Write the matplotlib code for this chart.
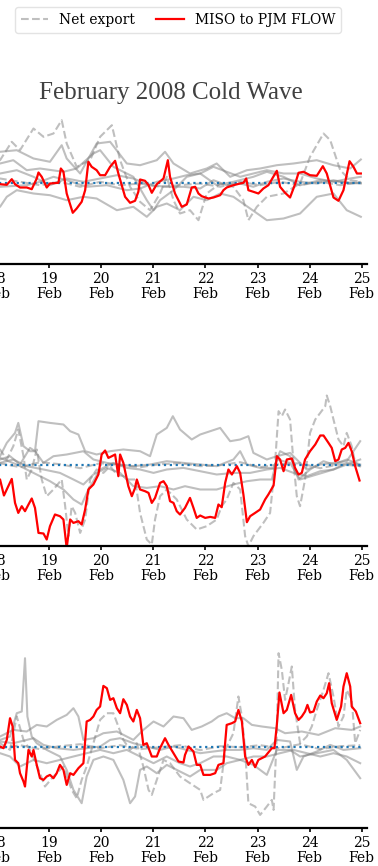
import numpy as np
import matplotlib
matplotlib.use("Agg")
import matplotlib.pyplot as plt
import matplotlib.dates as mdates

plt.rcParams["font.family"] = ["DejaVu Serif"]

START = np.datetime64("2008-02-18T00:00")
TITLE = "February 2008 Cold Wave"

# ---- panel 1 (hours after 18 Feb 00:00, flow deviation) ----
p1_red_h = [-10, -5, 1.4, 4.5, 6.8, 8.3, 10.6, 13.7, 16.0, 18.3, 19.1, 20.6, 22.9, 24.4, 28.3, 29.4, 30.6,
            32.1, 34.9, 36.7, 39.0, 40.6, 42.1, 43.6, 45.9, 47.5, 49.8, 52.1, 54.4, 55.9, 59.0, 61.3, 63.6,
            65.1, 65.9, 68.2, 69.8, 71.3, 73.6, 76.7, 78.7, 79.7, 82.0, 85.1, 87.4, 89.7, 91.3, 92.8, 94.3,
            97.4, 99.7, 102.8, 104.3, 105.8, 108.9, 112.0, 113.5, 114.8, 115.8, 118.1, 120.4, 122.7, 125.0,
            128.9, 130.4, 132.7, 135.0, 137.3, 138.9, 141.2, 144.2, 147.3, 150.1, 151.9, 155.0, 157.3, 159.6,
            162.4, 164.2, 165.8, 167.6]
p1_red_v = [0.1, -0.2, -0.07, -0.13, 0.43, -0.07, -0.4, -0.4, -0.57, 0.5, 1.1, 0.67, -0.4, 0.0, 0.07, 1.5, 1.17,
            -1.0, -2.93, -2.5, -1.83, -0.67, 2.17, 1.67, 1.33, 0.83, 0.83, 1.67, 2.27, 1.0, -1.33, -1.93, -1.73,
            -0.83, 0.4, 0.27, -0.17, -0.93, -0.07, 0.5, 2.33, 0.67, -1.0, -2.33, -2.1, -0.4, -0.33, -1.0, -1.27,
            -1.5, -1.4, -1.17, -0.67, -0.4, -0.17, 0.0, 0.07, 0.5, -0.67, -0.83, -1.0, -0.5, -0.17,
            1.27, -0.33, -0.93, -1.4, -0.07, 1.07, 1.17, 0.83, 0.77, 1.73, 1.0, -1.4, -1.73, -0.67,
            2.23, 1.67, 1.0, 1.0]

p1_g1_h = [-10, 1.4, 9.1, 16.8, 24.4, 29.8, 32.1, 38.3, 45.9, 52.1, 59.8, 65.9, 73.6, 77.4, 81.3, 88.9, 96.6,
           101.2, 107.4, 115.1, 121.2, 128.9, 136.6, 147.3, 155.0, 162.7, 167.6]
p1_g1_v = [2.8, 3.17, 3.33, 2.5, 2.17, 3.83, 2.5, 1.0, 4.0, 4.17, 2.0, 1.83, 2.33, 3.17, 2.0, 1.0, 1.5,
           2.0, 0.67, 1.33, 1.5, 1.83, 2.0, 2.33, 1.83, 1.5, 2.4]
p1_g2_h = [-10, 1.4, 4.5, 9.1, 16.8, 24.4, 32.1, 39.8, 45.9, 55.2, 62.8, 69.0, 73.6, 78.2, 84.3, 90.5, 96.6,
           102.8, 108.9, 116.6, 124.3, 132.0, 139.6, 147.3, 155.0, 161.1, 167.6]
p1_g2_v = [-1.8, -2.33, -1.33, -0.67, -1.0, -1.17, -1.67, -1.33, -1.5, -2.67, -2.33, -3.33, -2.33, -2.0, -2.67,
           -1.33, -1.67, -1.0, -1.33, -2.5, -3.67, -3.5, -3.0, -1.33, -1.0, -2.67, -3.33]
p1_g3_h = [-10, 1.4, 9.1, 16.8, 24.4, 32.1, 39.8, 47.5, 55.2, 62.8, 70.5, 78.2, 85.9, 93.6, 99.7, 105.8, 112.0,
           118.1, 124.3, 132.0, 139.6, 147.3, 155.0, 162.7, 167.6]
p1_g3_v = [0.6, 1.0, 1.33, 0.67, -0.17, 0.5, 0.17, 0.5, 0.83, 0.5, -0.17, -0.33, -0.33, -0.5, 0.33, -0.17, 0.0,
           -0.33, 0.17, 0.5, 0.17, 0.0, 0.33, 0.0, 0.07]
p1_g4_h = [-10, 1.4, 13.7, 19.8, 26.0, 32.1, 41.3, 50.6, 59.8, 65.9, 73.6, 81.3, 87.4, 93.6, 101.2, 108.9, 118.1,
           124.3, 132.0, 139.6, 148.9, 158.1, 167.6]
p1_g4_v = [-0.2, -0.33, -0.17, 0.17, 0.67, 0.33, -0.33, -0.17, -0.67, -0.5, 0.17, 0.5, 0.83, 1.0, -0.17, 0.17, 0.67,
           1.17, 0.67, -0.17, 0.33, 0.17, 0.0]
p1_g5_h = [-10, 1.4, 7.5, 13.7, 19.8, 30.6, 36.7, 44.4, 47.5, 53.6, 62.8, 69.0, 72.1, 75.1, 81.3, 87.4, 93.6,
           99.7, 105.8, 112.0, 118.1, 124.3, 132.0, 139.6, 147.3, 155.0, 162.7, 167.6]
p1_g5_v = [1.6, 2.0, 2.33, 1.33, 1.5, 1.17, 1.5, 3.0, 3.33, 1.67, 0.67, -1.67, -2.67, -1.67, -0.67, 0.67, 1.0,
           1.67, 1.17, 0.67, 1.0, 1.33, 1.0, 1.0, 0.5, 0.17, 0.5, 0.67]
p1_d1_h = [-10, 1.4, 6.8, 10.6, 16.8, 21.4, 26.0, 29.8, 32.1, 36.7, 42.9, 47.5, 52.9, 56.7, 61.3, 65.9, 70.5,
           75.1, 78.2, 81.3, 84.3, 88.9, 92.8, 96.6, 102.8, 108.9, 113.5, 115.8, 119.7, 124.3, 132.0, 139.6,
           144.2, 150.4, 153.5, 158.1, 162.7, 167.6]
p1_d1_v = [1.5, 2.33, 4.17, 3.33, 5.5, 4.67, 5.0, 6.33, 4.0, 1.67, 2.33, 4.67, 5.83, 2.33, -0.33, -1.83, -2.67,
           -1.0, 0.67, -1.67, -3.0, -2.67, -3.67, -1.0, 0.0, -0.33, -1.67, -3.67, -2.33, -1.33, -1.0, 0.0,
           2.67, 5.0, 4.33, 1.33, 0.33, 0.17]
p1_d2_h = [-10, 1.4, 10.6, 19.8, 29.0, 38.3, 47.5, 56.7, 65.9, 75.1, 84.3, 93.6, 102.8, 112.0, 121.2, 130.4,
           139.6, 148.9, 158.1, 167.6]
p1_d2_v = [0.3, 0.5, 0.17, -0.17, 0.17, -0.33, 0.17, -0.17, 0.0, -0.33, -0.17, 0.0, -0.33, 0.17, -0.17, 0.17,
           -0.17, 0.17, -0.17, 0.17]

# ---- panel 2 ----
p2_red_h = [-10, -4, 1.4, 3.2, 5.2, 6.8, 8.3, 9.8, 11.4, 12.9, 14.5, 16.0, 17.5, 19.1, 21.4, 22.9, 24.4, 26.7,
            29.0, 30.6, 32.1, 33.7, 35.2, 37.5, 39.0, 40.6, 42.1, 44.4, 46.7, 48.2, 49.8, 51.3, 52.9, 54.4,
            55.9, 56.7, 58.2, 60.5, 62.1, 63.6, 64.4, 65.9, 68.2, 69.8, 71.3, 72.8, 75.1, 76.7, 78.2, 79.7,
            81.3, 82.8, 84.3, 86.6, 88.9, 90.5, 92.0, 93.6, 95.9, 98.2, 100.5, 102.0, 103.5, 105.1, 106.6,
            108.2, 110.5, 112.0, 113.5, 115.1, 116.6, 118.9, 121.2, 123.5, 125.0, 127.4, 128.9, 130.4, 132.0,
            133.5, 135.8, 137.3, 138.9, 140.4, 141.9, 144.2, 146.6, 148.9, 150.4, 152.7, 154.2, 155.8, 157.3,
            158.8, 160.4, 161.9, 163.4, 165.0, 167.0]
p2_red_v = [-0.5, -1.0, -1.43, -3.03, -2.1, -1.37, -3.77, -4.77, -4.1, -4.6, -3.93, -3.33, -4.27, -6.77, -6.83,
            -7.43, -6.1, -4.93, -5.1, -5.43, -8.3, -5.43, -5.77, -5.6, -5.93, -4.43, -2.43, -1.93, -0.93, 1.07,
            1.47, 0.73, 0.9, 1.07, -1.1, 1.07, 0.23, -2.1, -3.1, -2.27, -1.43, -2.43, -2.6, -2.77, -3.77, -3.27,
            -1.77, -1.6, -2.1, -3.6, -3.77, -4.6, -4.93, -4.27, -3.27, -4.27, -5.27, -5.03, -5.27, -5.17, -5.27,
            -3.93, -4.2, -1.77, -0.43, -0.93, -0.1, -0.77, -2.93, -5.7, -5.1, -4.77, -4.43, -3.43, -2.93, -2.03,
            0.9, 0.57, -0.6, 0.57, 0.67, -0.27, -0.93, -0.77, 0.57, 1.4, 2.07, 2.97, 2.97, 2.23, 1.73, 0.4, 0.57,
            1.57, 1.73, 2.23, 1.4, -0.1, -1.53]

p2_g1_h = [-10, 1.4, 4.5, 8.3, 9.8, 12.2, 15.2, 17.5, 19.1, 24.4, 30.6, 33.7, 37.5, 40.6, 45.9, 52.1, 58.2, 65.9,
           70.5, 73.6, 78.2, 81.0, 84.3, 89.7, 93.6, 98.2, 102.8, 107.4, 112.0, 115.8, 118.1, 124.3, 128.9,
           135.0, 142.7, 148.9, 155.0, 161.1, 167.3]
p2_g1_v = [0.5, 0.9, 2.23, 3.23, 4.23, 1.9, 1.4, 1.4, 4.4, 4.23, 4.07, 3.4, 3.07, 1.4, 1.07, 1.4, 1.57, 1.4,
           0.9, 3.07, 3.73, 4.9, 3.57, 2.57, 3.07, 3.4, 3.73, 2.4, 2.57, 2.9, 1.23, 0.57, 0.9,
           1.23, -0.43, 0.07, 0.23, 0.4, 2.4]
p2_g2_h = [-10, 1.4, 7.5, 13.7, 21.4, 29.0, 35.2, 39.8, 44.4, 50.6, 56.7, 62.8, 69.0, 75.1, 81.3, 86.6, 93.6,
           101.2, 108.9, 115.1, 121.2, 126.6, 128.9, 135.0, 139.6, 147.3, 155.0, 161.1, 167.3]
p2_g2_v = [0.3, 0.23, 0.57, -0.1, -0.43, -0.77, -1.43, -1.93, -0.93, -0.27, -0.77, -2.1, -2.27, -2.1, -2.43, -2.1,
           -2.43, -2.43, -1.93, -1.6, -1.43, -1.43, 0.57, 0.23, -1.43, -0.93, -0.43, 0.07, 0.57]
p2_g3_h = [-10, 1.4, 6.0, 10.6, 15.2, 17.5, 21.4, 26.0, 32.1, 39.8, 44.4, 50.6, 56.7, 62.8, 70.5, 78.2, 85.9,
           93.6, 101.2, 108.9, 112.0, 115.1, 121.2, 127.4, 130.4, 135.0, 138.9, 144.2, 150.4, 155.0, 161.1, 167.3]
p2_g3_v = [0.3, 0.57, 0.9, 0.07, 1.73, 1.4, 0.23, 0.9, 1.07, 1.4, 0.57, 0.23, 0.07, -0.1, 0.07, 0.4, 0.23,
           0.07, -0.1, 0.57, 1.4, 0.07, -0.27, -0.27, 1.4, 0.9, -1.43, -0.43, 0.4, 0.07, 0.57, 0.07]
p2_g4_h = [-10, 1.4, 9.1, 16.8, 24.4, 30.6, 35.2, 39.0, 42.1, 47.5, 53.6, 59.8, 65.9, 72.1, 78.2, 85.9, 93.6,
           101.2, 108.9, 116.6, 124.3, 130.4, 136.6, 142.7, 148.9, 155.0, 161.1, 167.3]
p2_g4_v = [0.9, 0.73, 0.07, -0.77, -1.6, -2.43, -3.43, -3.93, -2.43, -0.43, 0.23, -0.27, -0.43, -0.77, -0.43,
           -0.27, -0.6, -0.93, -0.77, -0.77, -0.43, -0.27, -0.77, -1.1, -0.6, -0.43, 0.23, -0.1]
p2_d1_h = [-10, 1.4, 4.5, 7.5, 9.8, 12.2, 13.7, 16.0, 18.3, 20.6, 22.9, 26.0, 29.8, 31.4, 32.9, 34.4, 36.0, 38.3,
           40.6, 42.9, 45.9, 49.0, 52.1, 55.2, 58.2, 60.5, 63.6, 65.9, 69.0, 71.3, 72.8, 75.1, 78.2, 82.8,
           87.4, 92.0, 96.6, 101.2, 103.5, 105.8, 108.9, 112.0, 114.3, 115.8, 118.1, 122.7, 125.8, 128.1,
           129.7, 131.2, 132.7, 135.0, 136.6, 138.1, 139.6, 141.9, 144.2, 146.6, 148.9, 151.2, 151.9, 153.5,
           155.0, 157.3, 159.6, 161.1, 163.4, 165.0, 167.3]
p2_d1_v = [1.0, 1.57, 0.57, 1.9, 3.57, 0.9, -1.43, -0.43, 1.57, -1.43, -3.1, -2.43, -1.43, -4.1, -7.1, -4.1,
           -4.77, -6.77, -5.43, -1.43, -0.43, -0.77, -0.1, -0.93, -1.1, -1.43, -1.43, -4.77, -7.43, -7.93,
           -5.43, -3.1, -2.43, -3.43, -5.43, -6.43, -6.1, -5.43, -4.1, -3.43, -1.77, -2.43, -7.1, -8.1, -7.1,
           -5.77, -4.77, 0.23, 5.4, 4.9, 5.57, 4.57, 0.23, -3.1, -4.1, -1.43, 3.23, 4.57, 5.23, 5.9, 6.97, 5.9,
           4.57, 2.57, 1.9, 3.23, 1.9, 0.23, -0.1]
p2_d2_h = [-10, 1.4, 10.6, 19.8, 29.0, 38.3, 47.5, 56.7, 65.9, 75.1, 84.3, 93.6, 102.8, 112.0, 121.2, 130.4,
           139.6, 148.9, 158.1, 167.3]
p2_d2_v = [0.3, 0.2, -0.2, 0.3, 0.1, -0.3, 0.2, 0.0, -0.2, 0.1, 0.2, -0.1, 0.0, 0.3, -0.2, 0.1, 0.2, -0.3, 0.1,
           -0.1]

# ---- panel 3 ----
p3_red_h = [-10, -4, 1.4, 3.0, 4.5, 6.0, 7.2, 8.3, 9.8, 10.6, 12.2, 12.9, 14.5, 16.0, 16.8, 18.3, 19.8, 21.4,
            22.9, 24.4, 26.0, 27.5, 29.0, 30.6, 32.1, 33.7, 35.2, 37.5, 39.8, 41.3, 42.9, 44.4, 45.9, 47.5,
            49.0, 50.6, 52.1, 53.6, 55.2, 56.7, 58.2, 59.8, 61.3, 62.8, 64.4, 65.9, 67.4, 69.0, 71.3, 73.6,
            75.1, 77.4, 79.0, 81.3, 83.6, 85.9, 86.6, 88.2, 90.5, 92.0, 93.6, 95.1, 98.2, 100.5, 102.0, 104.3,
            105.8, 108.2, 109.7, 111.2, 112.8, 114.3, 115.8, 117.4, 118.9, 120.4, 123.5, 126.6, 127.8, 128.9,
            130.1, 132.0, 133.5, 135.5, 137.3, 138.9, 140.4, 141.9, 143.0, 144.2, 145.8, 147.3, 148.9, 150.4,
            151.9, 153.0, 154.2, 156.5, 158.5, 159.6, 161.1, 162.7, 163.4, 165.3, 167.3]
p3_red_v = [0.3, 0.0, 0.07, -0.1, 0.73, 2.9, 2.07, -1.27, -1.6, -2.6, -3.43, -3.93, -0.27, -0.93, -0.27, -1.77,
            -3.1, -3.27, -2.93, -2.77, -3.1, -2.6, -1.77, -2.27, -3.77, -2.6, -2.77, -2.1, -1.6, 2.57, 2.73,
            3.07, 3.73, 4.07, 6.13, 5.9, 4.73, 4.9, 3.9, 3.4, 4.8, 4.23, 3.07, 2.57, 3.73, 2.9, 0.23, 0.4,
            -0.93, -0.93, -0.1, 0.9, 0.23, -0.6, -1.43, -1.53, -0.77, 0.07, -0.43, -1.77, -1.77, -2.77, -2.77,
            -2.6, -1.77, -1.6, 2.23, 2.4, 2.57, 3.73, 2.57, -0.93, -1.77, -1.27, -2.0, -1.27, -0.93, -0.1, -0.1,
            2.23, 5.47, 3.4, 3.73, 5.23, 3.4, 2.73, 3.07, 3.57, 4.23, 3.47, 3.57, 4.57, 5.17, 4.9, 5.4, 6.4,
            4.4, 2.73, 4.07, 6.07, 7.4, 6.07, 4.07, 3.57, 2.4]

p3_g1_h = [-10, 1.4, 6.0, 9.1, 11.4, 12.9, 14.0, 16.0, 18.3, 22.9, 29.0, 32.1, 35.2, 39.0, 41.3, 44.4, 49.0,
           53.6, 58.2, 61.3, 63.6, 65.9, 69.0, 73.6, 78.2, 84.3, 88.9, 93.6, 101.2, 105.8, 112.0, 118.1, 124.3,
           128.9, 135.0, 139.6, 147.3, 155.0, 161.1, 167.3]
p3_g1_v = [0.5, 0.73, 1.07, 3.4, 3.57, 8.9, 3.07, 1.07, 0.4, -0.27, -0.93, -2.27, -4.27, -5.6, -2.93, -1.27,
           -0.93, -1.27, -3.27, -5.6, -4.93, -2.27, -1.93, -2.6, -1.77, -2.43, -2.93, -2.27, -2.27, -1.6, -1.27,
           -1.77, -2.77, -0.27, -0.27, -0.93, -0.6, -0.27, -1.27, -3.1]
p3_g2_h = [-10, 1.4, 7.5, 13.7, 18.3, 22.9, 27.5, 32.1, 35.2, 37.5, 39.8, 44.4, 49.0, 55.2, 62.8, 67.4, 72.1,
           76.7, 81.3, 85.9, 89.7, 94.3, 98.9, 102.0, 105.8, 109.7, 113.5, 117.4, 122.0, 128.1, 132.7, 140.4,
           148.1, 155.8, 163.4, 167.3]
p3_g2_v = [0.8, 1.07, 1.73, 1.57, 2.23, 2.07, 2.73, 3.23, 3.9, 3.07, 0.73, 0.9, 1.4, 1.57, 0.73, 1.73, 2.57,
           2.07, 3.07, 2.9, 1.73, 2.07, 2.57, 3.07, 3.4, 2.9, 2.9, 2.23, 2.07, 1.9, 1.4, 1.57, 1.23, 1.9, 1.73,
           2.07]
p3_g3_h = [-10, 1.4, 7.5, 13.7, 16.8, 21.4, 27.5, 35.2, 41.3, 47.5, 52.1, 56.7, 62.8, 69.0, 75.1, 81.3, 87.4,
           93.6, 99.7, 105.8, 112.0, 118.1, 124.3, 128.9, 135.0, 138.1, 141.2, 147.3, 153.5, 159.6, 167.3]
p3_g3_v = [0.4, 0.57, 0.4, 0.73, 0.9, 0.23, -0.1, -0.27, -0.1, 0.07, 0.73, 0.9, 0.4, 0.07, -0.27, 0.07, -0.27,
           -0.6, -0.43, -0.27, -0.27, -0.1, -0.27, 0.73, 0.57, -2.27, -0.93, -0.43, 0.23, -0.27, -0.1]
p3_g4_h = [-10, 1.4, 6.0, 10.6, 16.8, 22.9, 29.0, 35.2, 41.3, 47.5, 53.6, 59.8, 65.9, 72.1, 78.2, 84.3, 88.9,
           93.6, 99.7, 105.8, 112.0, 118.1, 124.3, 130.4, 136.6, 142.7, 148.9, 155.0, 161.1, 167.3]
p3_g4_v = [-0.3, -0.6, -0.93, -1.93, -1.27, -1.6, -1.27, -0.93, -0.6, -0.27, -0.6, -0.27, -0.93, -1.6, -0.93,
           -1.6, -1.93, -1.6, -0.93, -0.93, -1.27, -0.93, -0.93, -0.6, -0.27, -0.6, -0.93, -0.6, -0.93, -1.6]
p3_d1_h = [-10, 1.4, 6.0, 9.1, 12.2, 15.2, 19.8, 22.1, 26.0, 30.6, 34.4, 36.7, 39.0, 41.3, 44.4, 47.5, 50.6,
           53.6, 55.9, 58.2, 61.3, 64.4, 67.4, 69.8, 71.3, 73.6, 76.7, 79.7, 84.3, 88.9, 93.6, 95.1, 99.7,
           102.8, 105.1, 108.9, 111.2, 112.8, 114.3, 115.8, 118.9, 121.2, 124.3, 126.6, 127.4, 128.9, 129.7,
           131.2, 132.7, 134.3, 135.8, 137.3, 139.6, 142.7, 145.0, 147.3, 150.4, 152.7, 155.0, 157.3, 159.6,
           161.1, 163.4, 165.0, 167.3]
p3_d1_v = [0.2, 0.4, -0.27, 3.07, 0.73, -0.27, -2.6, -3.93, -2.93, -1.93, -4.27, -5.1, -3.27, -1.93, 0.4, 2.73,
           3.4, 3.4, 2.07, 0.73, -0.27, 0.4, -1.93, -4.27, -4.77, -3.27, -1.27, -1.6, -2.93, -3.6, -4.27, -5.27,
           -4.6, -4.27, -0.27, 1.4, 5.07, 3.07, -0.27, -5.6, -5.93, -6.77, -5.93, -5.27, -6.27, 1.4, 9.4, 7.73,
           4.73, 6.4, 8.07, 3.73, 0.4, 1.07, 2.07, 3.73, 5.73, 7.4, 5.07, 2.07, 3.07, 5.73, 4.73, 0.4, 1.73]
p3_d2_h = [-10, 1.4, 10.6, 19.8, 29.0, 38.3, 47.5, 56.7, 65.9, 75.1, 84.3, 93.6, 102.8, 112.0, 121.2, 130.4,
           139.6, 148.9, 158.1, 167.3]
p3_d2_v = [0.2, -0.1, 0.2, -0.2, 0.1, 0.3, -0.1, 0.2, -0.2, 0.0, 0.2, -0.3, 0.1, 0.0, 0.2, -0.1, 0.3, -0.2, 0.1,
           0.2]

zero_h = [-10, 167.6]
zero_v = [0, 0]

panels = [
    dict(red=(p1_red_h, p1_red_v),
         solid=[(p1_g1_h, p1_g1_v), (p1_g2_h, p1_g2_v), (p1_g3_h, p1_g3_v), (p1_g4_h, p1_g4_v), (p1_g5_h, p1_g5_v)],
         dashed=[(p1_d1_h, p1_d1_v), (p1_d2_h, p1_d2_v)], bottom_px=264.0),
    dict(red=(p2_red_h, p2_red_v),
         solid=[(p2_g1_h, p2_g1_v), (p2_g2_h, p2_g2_v), (p2_g3_h, p2_g3_v), (p2_g4_h, p2_g4_v)],
         dashed=[(p2_d1_h, p2_d1_v), (p2_d2_h, p2_d2_v)], bottom_px=545.7),
    dict(red=(p3_red_h, p3_red_v),
         solid=[(p3_g1_h, p3_g1_v), (p3_g2_h, p3_g2_v), (p3_g3_h, p3_g3_v), (p3_g4_h, p3_g4_v)],
         dashed=[(p3_d1_h, p3_d1_v), (p3_d2_h, p3_d2_v)], bottom_px=827.7),
]


def to_time(hours):
    minutes = np.round(np.asarray(hours, dtype=float) * 60).astype(np.int64)
    return START + minutes.astype("timedelta64[m]")


W, H = 378, 866
fig = plt.figure(figsize=(W / 100, H / 100), dpi=100)

YLIM = (-8.05, 10.0)
ax_h = (YLIM[1] - YLIM[0]) * 10.0
ax_left = -24.7
ax_w = 391.4

handles = {}
axes = []
for p in panels:
    ax = fig.add_axes([ax_left / W, 1 - p["bottom_px"] / H, ax_w / W, ax_h / H])
    for hh, vv in p["solid"]:
        ax.plot(to_time(hh), vv, color="gray", alpha=0.5, lw=1.5)
    for hh, vv in p["dashed"]:
        ln, = ax.plot(to_time(hh), vv, color="gray", alpha=0.5, lw=1.5, ls="--")
        handles.setdefault("Net export", ln)
    ax.plot(to_time(zero_h), zero_v, color="#1f77b4", ls=":", lw=1.6)
    ln, = ax.plot(to_time(p["red"][0]), p["red"][1], color="red", lw=1.6)
    handles.setdefault("MISO to PJM FLOW", ln)

    ax.set_xlim(to_time([-10])[0], to_time([170.3])[0])
    ax.set_ylim(*YLIM)
    for s in ("top", "right", "left"):
        ax.spines[s].set_visible(False)
    ax.spines["bottom"].set_linewidth(1.6)
    ax.spines["bottom"].set_color("black")
    ax.set_yticks([])
    ax.xaxis.set_major_locator(mdates.DayLocator())
    ax.xaxis.set_major_formatter(mdates.DateFormatter("%d\n%b"))
    ax.tick_params(axis="x", labelsize=10, length=3, width=1.2, pad=3)
    ax.patch.set_alpha(0)
    axes.append(ax)

fig.text(171 / W, 1 - 98.5 / H, TITLE, ha="center", va="baseline", fontsize=18, color="#404040",
         family="Liberation Serif")

fig.legend([handles["Net export"], handles["MISO to PJM FLOW"]], ["Net export", "MISO to PJM FLOW"],
           loc="center", bbox_to_anchor=(178 / W, 1 - 20 / H), ncol=2, fontsize=10,
           columnspacing=1.5, frameon=True, edgecolor="#dddddd", fancybox=True)

fig.canvas.draw()
for ax in axes:
    plt.setp(ax.get_xticklabels(), linespacing=1.05)

fig.savefig("out.png", dpi=100)
